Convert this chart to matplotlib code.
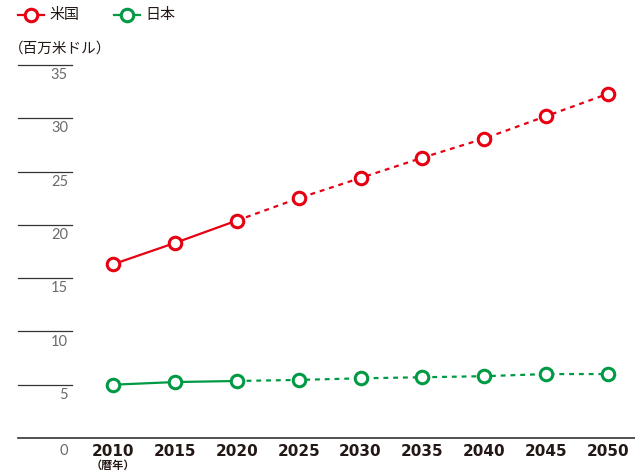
import numpy as np
import matplotlib.pyplot as plt

plt.rcParams['font.family'] = ['Noto Sans CJK JP', 'DejaVu Sans']

# データ
years = [2010, 2015, 2020, 2025, 2030, 2035, 2040, 2045, 2050]
us = [16.3, 18.3, 20.4, 22.5, 24.4, 26.3, 28.1, 30.2, 32.3]
jp = [5.0, 5.25, 5.35, 5.45, 5.6, 5.7, 5.8, 6.0, 6.0]
yticks = [0, 5, 10, 15, 20, 25, 30, 35]
n_actual = 3  # 2020まで実績

red = '#E60012'
green = '#009A44'
W, H = 635, 473

fig = plt.figure(figsize=(W / 100, H / 100), dpi=100)
# 0 -> y=438px, 35 -> y=65px
ax = fig.add_axes([0, (H - 438) / H, 1, (438 - 65) / H])
ax.set_ylim(0, 35)
ppy = (608 - 113) / 40.0
ax.set_xlim(2010 - 113 / ppy, 2010 + (W - 113) / ppy)
ax.axis('off')

# 目盛り線
yt = ax.get_yaxis_transform()
for v in yticks[1:]:
    ax.plot([18 / W, 72 / W], [v, v], color='#333333', lw=0.9, transform=yt, clip_on=False)
    ax.text(68 / W, v - 0.95, str(v), transform=yt, ha='right', va='center',
            fontsize=10.5, color='#6a6a6a', family=['Lato', 'DejaVu Sans'])
ax.plot([18 / W, 1], [0, 0], color='#333333', lw=1.2, transform=yt, clip_on=False)
ax.text(68 / W, -1.2, '0', transform=yt, ha='right', va='center',
        fontsize=10.5, color='#6a6a6a', family=['Lato', 'DejaVu Sans'])

for yr in years:
    ax.text(yr, -1.25, str(yr), ha='center', va='center', fontsize=11,
            fontweight='bold', color='#231815', family=['DejaVu Sans'])
ax.text(years[0], -2.55, '（暦年）', ha='center', va='center', fontsize=8,
        fontweight='bold', color='#231815')

mk = dict(marker='o', markersize=9, markerfacecolor='white', markeredgewidth=2.2)
for vals, c in [(us, red), (jp, green)]:
    ax.plot(years[:n_actual], vals[:n_actual], color=c, lw=1.6, **mk, zorder=3)
    ax.plot(years[n_actual - 1:], vals[n_actual - 1:], color=c, lw=1.6,
            linestyle=(0, (2.2, 2.2)), zorder=2)
    ax.plot(years[n_actual:], vals[n_actual:], color=c, lw=0, **mk, zorder=3)

# 凡例
for x0, c, lab in [(18, red, '米国'), (114, green, '日本')]:
    ly = 1 - 15 / H
    fig.lines.append(plt.Line2D([x0 / W, (x0 + 26) / W], [ly, ly],
                                color=c, lw=1.6, transform=fig.transFigure))
    fig.lines.append(plt.Line2D([(x0 + 13) / W], [ly], color=c, lw=0,
                                transform=fig.transFigure, **mk))
    fig.text((x0 + 31) / W, ly, lab, ha='left', va='center', fontsize=10.8,
             color='#231815')

fig.text(9 / W, 1 - 49 / H, '（百万米ドル）', ha='left', va='center', fontsize=10.5,
         color='#231815')

fig.savefig('out.png', dpi=100)
